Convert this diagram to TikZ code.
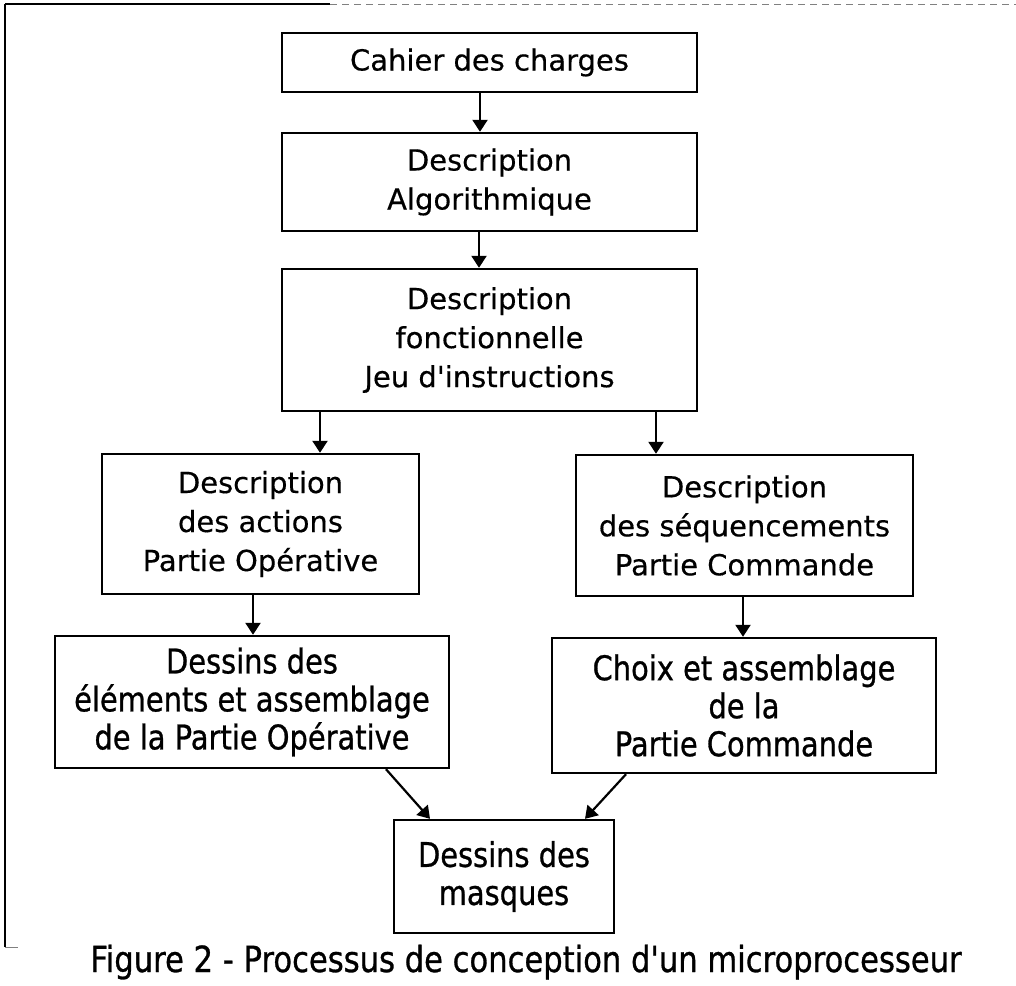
\documentclass[tikz,border=0pt]{standalone}
\usepackage{fontspec}
\usetikzlibrary{arrows.meta}
\newfontfamily\hautfont[FakeBold=0.4]{DejaVu Sans}
\newfontfamily\basfont[FakeStretch=0.85,FakeBold=0.8]{DejaVu Sans}
\tikzset{
    etape/.style={draw,line width=2.4pt,align=center,inner sep=0pt},
    haut/.style={font=\hautfont\fontsize{29}{39}\selectfont},
    bas/.style={font=\basfont\fontsize{34}{38}\selectfont},
}
\begin{document}
\begin{tikzpicture}[x=1pt,y=-1pt]
        \useasboundingbox (0,0) rectangle (1016,985);
        \draw[line width=1.4pt] (5,4)--(330,4);
        \draw[gray,line width=0.8pt,dash pattern=on 7pt off 5pt] (330,4)--(1016,4);
        \draw[line width=1.4pt] (5,4)--(5,947);
        \draw[gray,line width=0.8pt] (5,947)--(18,947);
        \begin{scope}[every node/.style={etape}]
            \node[haut,minimum width=415pt,minimum height=59pt]  (cahier) at (489.5,62.5) {Cahier des charges};
            \node[haut,minimum width=415pt,minimum height=98pt]  (algo)   at (489.5,182)  {Description\\Algorithmique};
            \node[haut,minimum width=415pt,minimum height=142pt] (fonct)  at (489.5,340)  {Description\\fonctionnelle\\Jeu d'instructions};
            \node[haut,minimum width=317pt,minimum height=140pt] (actPO)  at (260.5,524)  {Description\\des actions\\Partie Opérative};
            \node[haut,minimum width=337pt,minimum height=141pt] (seqPC)  at (744.5,525.5) {Description\\des séquencements\\Partie Commande};
            \node[bas,minimum width=394pt,minimum height=132pt]  (dessPO) at (252,702)    {Dessins des\\éléments et assemblage\\de la Partie Opérative};
            \node[bas,minimum width=384pt,minimum height=135pt]  (choixPC) at (744,705.5) {Choix et assemblage\\de la\\Partie Commande};
            \node[bas,minimum width=220pt,minimum height=113pt]  (masques) at (504,876.5) {Dessins des\\masques};
        \end{scope}
        \node[font=\basfont\fontsize{36}{40}\selectfont,anchor=base] (legende) at (526,972) {Figure 2 - Processus de conception d'un microprocesseur};
        \begin{scope}[line width=2.2pt,-{Triangle[width=15pt,length=12pt]}]
            \draw ([xshift=-9.5pt]cahier.south)--([xshift=-9.5pt]algo.north);
            \draw ([xshift=-10.5pt]algo.south)--([xshift=-10.5pt]fonct.north);
            \draw (fonct.south -| 320,0)--(actPO.north -| 320,0);
            \draw (fonct.south -| 656,0)--(seqPC.north -| 656,0);
            \draw (actPO.south -| 253,0)--(dessPO.north -| 253,0);
            \draw (seqPC.south -| 743,0)--(choixPC.north -| 743,0);
            \draw ([xshift=134pt]dessPO.south)--([xshift=-74pt]masques.north);
            \draw ([xshift=-118pt]choixPC.south)--([xshift=81pt]masques.north);
        \end{scope}
\end{tikzpicture}
\end{document}
